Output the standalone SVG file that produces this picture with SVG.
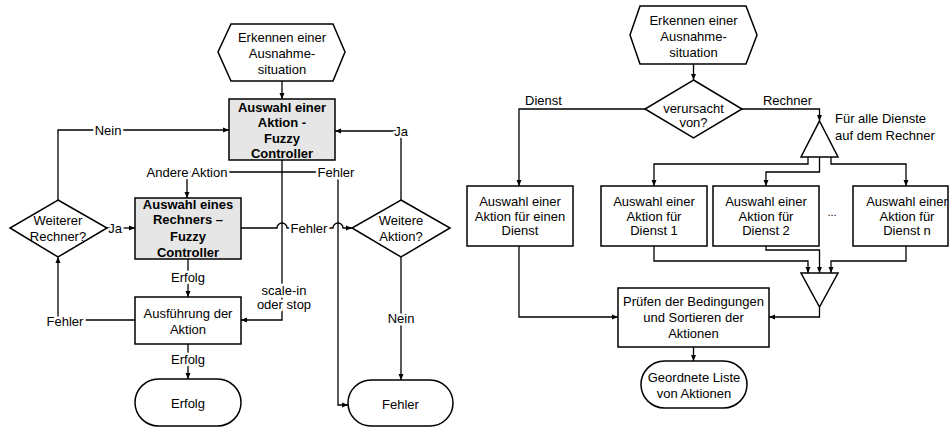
<svg xmlns="http://www.w3.org/2000/svg" width="950" height="427" viewBox="0 0 950 427">
<style>
.n{fill:#fff;stroke:#000;stroke-width:1.5}
.g{fill:#e6e6e6}
.c{fill:none;stroke:#000;stroke-width:1.3}
text{font-family:"Liberation Sans",Arial,Helvetica,sans-serif;font-size:13px;text-anchor:middle;fill:#000}
.b{font-weight:bold}
.l{paint-order:stroke;stroke:#fff;stroke-width:5px;stroke-linejoin:round}
.s{text-anchor:start}
</style>
<defs>
<marker id="a" markerWidth="6" markerHeight="6" refX="6" refY="3" orient="auto" markerUnits="userSpaceOnUse">
<path d="M0,0.5 L6,3 L0,5.5 z" fill="#000"/>
</marker>
</defs>
<rect width="950" height="427" fill="#fff"/>

<g id="connectors">
<!-- left diagram -->
<path class="c" d="M282,81 V99" marker-end="url(#a)"/>
<path class="c" d="M58,200 V130 H229" marker-end="url(#a)"/>
<path class="c" d="M401,200 V131 H335" marker-end="url(#a)"/>
<path class="c" d="M107,228 H135" marker-end="url(#a)"/>
<path class="c" d="M282,160 V320 H241" marker-end="url(#a)"/>
<path class="c" d="M282,172 H187 V198" marker-end="url(#a)"/>
<path class="c" d="M282,172 H338 V405 H348" marker-end="url(#a)"/>
<path class="c" d="M241,228 H277 a5,5 0 0 1 10,0 H333 a5,5 0 0 1 10,0 H352" marker-end="url(#a)"/>
<path class="c" d="M188,259 V297" marker-end="url(#a)"/>
<path class="c" d="M188,344 V379" marker-end="url(#a)"/>
<path class="c" d="M135,320 H58 V257" marker-end="url(#a)"/>
<path class="c" d="M401,257 V380" marker-end="url(#a)"/>
<text class="l" x="108" y="134.5">Nein</text>
<text class="l" x="401" y="135.5">Ja</text>
<text class="l" x="115" y="232.5">Ja</text>
<text class="l" x="284" y="294.5">scale-in</text>
<text class="l" x="284" y="309">oder stop</text>
<text class="l" x="187" y="176.5">Andere Aktion</text>
<text class="l" x="336" y="176.5">Fehler</text>
<text class="l" x="309" y="232.5">Fehler</text>
<text class="l" x="188" y="281.5">Erfolg</text>
<text class="l" x="188" y="363.5">Erfolg</text>
<text class="l" x="65" y="325.5">Fehler</text>
<text class="l" x="401" y="323">Nein</text>
<!-- right diagram -->
<path class="c" d="M693.5,64 V80" marker-end="url(#a)"/>
<path class="c" d="M645,109 H519 V186" marker-end="url(#a)"/>
<path class="c" d="M742,109 H819.5 V121" marker-end="url(#a)"/>
<path class="c" d="M808,157 V164 H654 V186" marker-end="url(#a)"/>
<path class="c" d="M819.5,157 V172 H766 V186" marker-end="url(#a)"/>
<path class="c" d="M831,157 V164 H906 V186" marker-end="url(#a)"/>
<path class="c" d="M654,246 V261 H808 V273" marker-end="url(#a)"/>
<path class="c" d="M766,246 V250 H819.5 V273" marker-end="url(#a)"/>
<path class="c" d="M906,246 V261 H831 V273" marker-end="url(#a)"/>
<path class="c" d="M819.5,307 V317 H769" marker-end="url(#a)"/>
<path class="c" d="M519,246 V317 H618" marker-end="url(#a)"/>
<path class="c" d="M693.5,347 V361" marker-end="url(#a)"/>
<text x="543.5" y="104.5">Dienst</text>
<text x="787.5" y="104.5">Rechner</text>
<text class="s" x="835" y="123">Für alle Dienste</text>
<text class="s" x="835" y="139.5">auf dem Rechner</text>
</g>

<!-- left diagram nodes -->
<g id="start-left">
<polygon class="n" points="231,24 333,24 345,52 333,81 231,81 218,52"/>
<text x="282" y="41.5">Erkennen einer</text>
<text x="282" y="57.5">Ausnahme-</text>
<text x="282" y="73.5">situation</text>
</g>
<g id="auswahl-aktion-fuzzy">
<rect class="n g" x="229" y="99" width="106" height="61"/>
<text class="b" x="282" y="111.5">Auswahl einer</text>
<text class="b" x="282" y="126.5">Aktion -</text>
<text class="b" x="282" y="142.5">Fuzzy</text>
<text class="b" x="282" y="157.5">Controller</text>
</g>
<g id="auswahl-rechner-fuzzy">
<rect class="n g" x="135" y="198" width="106" height="61"/>
<text class="b" x="188" y="208.5">Auswahl eines</text>
<text class="b" x="188" y="224">Rechners –</text>
<text class="b" x="188" y="241">Fuzzy</text>
<text class="b" x="188" y="256.5">Controller</text>
</g>
<g id="weiterer-rechner">
<polygon class="n" points="58,200 107,228 58,257 10,228"/>
<text x="58" y="224.5">Weiterer</text>
<text x="58" y="240.5">Rechner?</text>
</g>
<g id="weitere-aktion">
<polygon class="n" points="401,200 450,228 401,257 352,228"/>
<text x="401" y="224.5">Weitere</text>
<text x="401" y="240.5">Aktion?</text>
</g>
<g id="ausfuehrung">
<rect class="n" x="135" y="297" width="106" height="47"/>
<text x="188" y="317.5">Ausführung der</text>
<text x="188" y="333.5">Aktion</text>
</g>
<g id="end-erfolg">
<rect class="n" x="135" y="379" width="106" height="47" rx="23.5"/>
<text x="188" y="407.5">Erfolg</text>
</g>
<g id="end-fehler">
<rect class="n" x="348" y="380" width="105" height="46" rx="23"/>
<text x="400.5" y="409">Fehler</text>
</g>

<!-- right diagram nodes -->
<g id="start-right">
<polygon class="n" points="640,6 746,6 757,35 746,64 640,64 630,35"/>
<text x="693.5" y="24.5">Erkennen einer</text>
<text x="693.5" y="40.5">Ausnahme-</text>
<text x="693.5" y="56.5">situation</text>
</g>
<g id="verursacht">
<polygon class="n" points="693.5,80 742,109 693.5,138 645,109"/>
<text x="693.5" y="112.5">verursacht</text>
<text x="693.5" y="126.5">von?</text>
</g>
<g id="split">
<polygon class="n" points="819.5,121 838,157 801,157"/>
</g>
<g id="aktion-einen-dienst">
<rect class="n" x="467" y="186" width="106" height="60"/>
<text x="520" y="205.5">Auswahl einer</text>
<text x="520" y="220.5">Aktion für einen</text>
<text x="520" y="235">Dienst</text>
</g>
<g id="aktion-dienst-1">
<rect class="n" x="601" y="186" width="106" height="60"/>
<text x="654" y="205.5">Auswahl einer</text>
<text x="654" y="220.5">Aktion für</text>
<text x="654" y="235">Dienst 1</text>
</g>
<g id="aktion-dienst-2">
<rect class="n" x="713" y="186" width="106" height="60"/>
<text x="766" y="205.5">Auswahl einer</text>
<text x="766" y="220.5">Aktion für</text>
<text x="766" y="235">Dienst 2</text>
</g>
<g id="ellipsis">
<text x="832" y="216" style="font-size:11px">...</text>
</g>
<g id="aktion-dienst-n">
<rect class="n" x="853" y="186" width="95" height="60"/>
<text x="907" y="205.5">Auswahl einer</text>
<text x="907" y="220.5">Aktion für</text>
<text x="907" y="235">Dienst n</text>
</g>
<g id="merge">
<polygon class="n" points="801,273 838,273 819.5,307"/>
</g>
<g id="pruefen">
<rect class="n" x="618" y="288" width="151" height="59"/>
<text x="693.5" y="305.5">Prüfen der Bedingungen</text>
<text x="693.5" y="321.5">und Sortieren der</text>
<text x="693.5" y="337.5">Aktionen</text>
</g>
<g id="geordnete-liste">
<rect class="n" x="641" y="361" width="106" height="47" rx="23.5"/>
<text x="694" y="381.5">Geordnete Liste</text>
<text x="694" y="397.5">von Aktionen</text>
</g>
</svg>
